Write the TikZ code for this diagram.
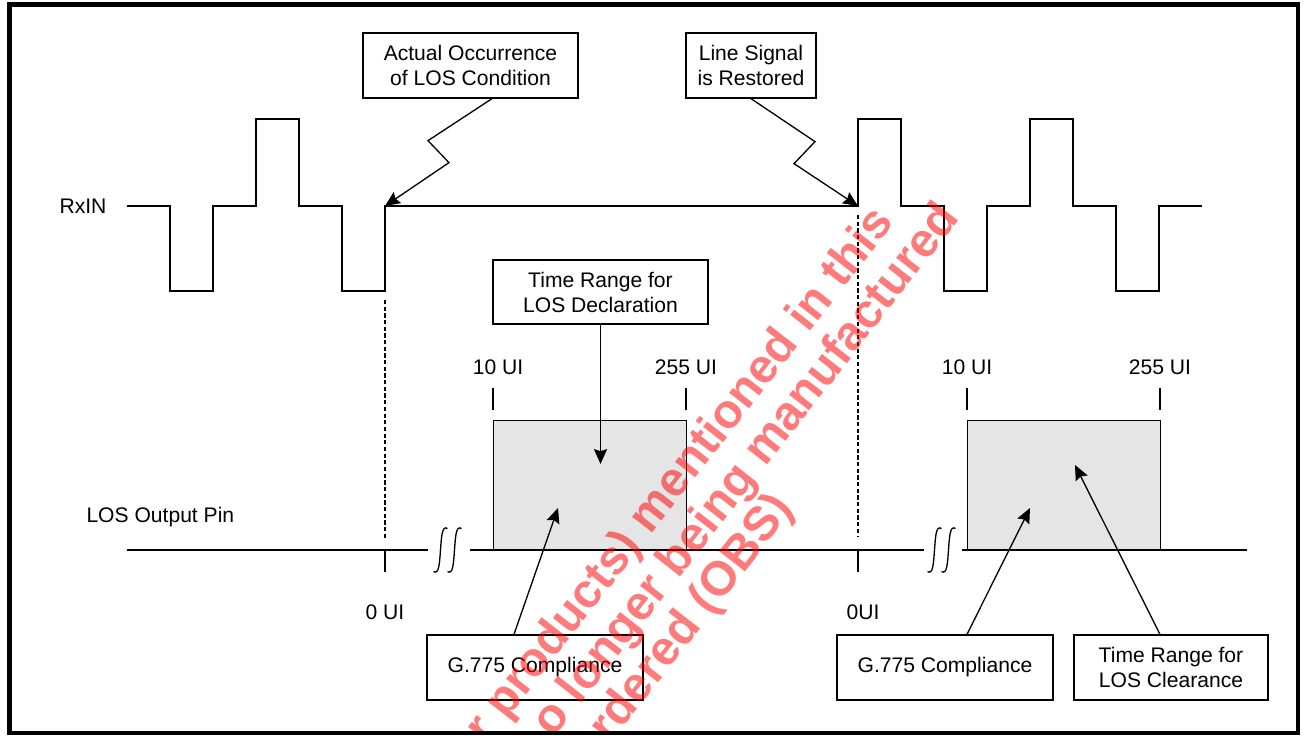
\documentclass[tikz,border=0pt]{standalone}
\usepackage{fontspec}
\setmainfont{Liberation Sans}
\usetikzlibrary{arrows.meta}

\begin{document}
\begin{tikzpicture}[
  line width=0.75pt,
  txt/.style={font=\fontsize{12}{14.2}\selectfont, align=center},
  box/.style={draw, txt, inner sep=0pt, minimum height=1.3cm},
  win/.style={draw, fill=black!10, anchor=south west, minimum width=3.86cm, minimum height=2.58cm},
  arr/.style={-{Stealth[length=8.5pt, width=7.5pt, inset=1.2pt]}},
  guide/.style={dash pattern=on 2.4pt off 1.4pt},
  uitick/.style={line width=0.7pt},
  wm/.style={anchor=base east, rotate=52, inner sep=0pt, text=red, text opacity=0.52,
             font=\bfseries\fontsize{27.3}{30}\selectfont},
]
\useasboundingbox (0,0) rectangle (26.08,14.72);

% RxIN
\node[txt] (rx) at (1.66,10.6) {RxIN};
\coordinate (loss) at (7.70,10.6);
\coordinate (rest) at (17.16,10.6);
\draw (2.54,10.6) -- (3.40,10.6) -- (3.40,8.9) -- (4.26,8.9) -- (4.26,10.6) -- (5.12,10.6)
  -- (5.12,12.34) -- (5.98,12.34) -- (5.98,10.6) -- (6.84,10.6) -- (6.84,8.9) -- (7.70,8.9)
  -- (loss) -- (rest) -- (17.16,12.34) -- (18.02,12.34) -- (18.02,10.6) -- (18.88,10.6)
  -- (18.88,8.9) -- (19.74,8.9) -- (19.74,10.6) -- (20.60,10.6) -- (20.60,12.34)
  -- (21.46,12.34) -- (21.46,10.6) -- (22.32,10.6) -- (22.32,8.9) -- (23.18,8.9)
  -- (23.18,10.6) -- (24.04,10.6);

% callouts
\node[box, minimum width=4.3cm] (occ) at (9.41,13.41) {Actual Occurrence\\of LOS Condition};
\node[box, minimum width=2.6cm] (rst) at (15.02,13.41) {Line Signal\\is Restored};
\draw[arr] ([xshift=0.43cm]occ.south) -- ++(-1.28,-0.84) -- ++(0.42,-0.44) -- (loss);
\draw[arr] (rst.south) -- ++(1.28,-0.86) -- ++(-0.42,-0.44) -- (rest);

% guides
\draw[guide] (7.70,8.72) -- (7.70,3.92);
\draw[guide] (17.16,10.42) -- (17.16,4.00);
\draw[uitick] (7.70,3.72) -- (7.70,3.28);
\draw[uitick] (17.16,3.72) -- (17.16,3.28);
\node[txt] (z1) at (7.70,2.48) {0 UI};
\node[txt] (z2) at (17.26,2.48) {0UI};

% LOS output
\node[txt, anchor=west] (lospin) at (1.60,4.38) {LOS Output Pin};
\node[win] (dwin) at (9.86,3.72) {};
\node[win] (cwin) at (19.34,3.72) {};
\draw (2.54,3.72) -- (8.56,3.72);
\draw (9.40,3.72) -- (18.48,3.72);
\draw (19.24,3.72) -- (24.94,3.72);
\foreach \bx in {8.81, 9.09, 18.69, 18.97}
  \draw (\bx-0.14,3.29) .. controls (\bx-0.03,3.22) and (\bx-0.02,3.45) .. (\bx,3.72)
    .. controls (\bx+0.02,3.99) and (\bx+0.03,4.22) .. (\bx+0.14,4.15);

% UI marks
\foreach \ux in {9.86, 13.72, 19.34, 23.20}
  \draw[uitick] (\ux,6.96) -- (\ux,6.52);
\node[txt] (d10) at (9.96,7.38) {10 UI};
\node[txt] (d255) at (13.72,7.38) {255 UI};
\node[txt] (c10) at (19.34,7.38) {10 UI};
\node[txt] (c255) at (23.20,7.38) {255 UI};

% ranges
\node[box, minimum width=4.3cm, minimum height=1.28cm] (decl) at (12.01,8.88) {Time Range for\\LOS Declaration};
\node[box, minimum width=4.32cm] (g1) at (10.70,1.37) {G.775 Compliance};
\node[box, minimum width=4.32cm] (g2) at (18.90,1.37) {G.775 Compliance};
\node[box, minimum width=3.88cm] (clr) at (23.42,1.37) {Time Range for\\LOS Clearance};
\coordinate (decltip) at (12.01,5.44);
\coordinate (g1tip) at (11.16,4.56);
\coordinate (g2tip) at (20.60,4.56);
\coordinate (clrtip) at (21.50,5.42);
\draw[arr] (decl.south) -- (decltip);
\draw[arr] ([xshift=-0.42cm]g1.north) -- (g1tip);
\draw[arr] ([xshift=0.44cm]g2.north) -- (g2tip);
\draw[arr] ([xshift=-0.22cm]clr.north) -- (clrtip);

% watermark
\begin{scope}
  \clip (0.19,0.06) rectangle (25.96,14.63);
  \node[wm] (wm1) at (17.91,10.28) {r products) mentioned in this};
  \node[wm] (wm2) at (19.22,10.37) {o longer being manufactured};
  \node[wm] (wm3) at (15.89,4.55) {rdered (OBS)};
\end{scope}

% frame
\draw[line width=2.3pt] (0.19,0.06) rectangle (25.96,14.63);
\end{tikzpicture}
\end{document}
